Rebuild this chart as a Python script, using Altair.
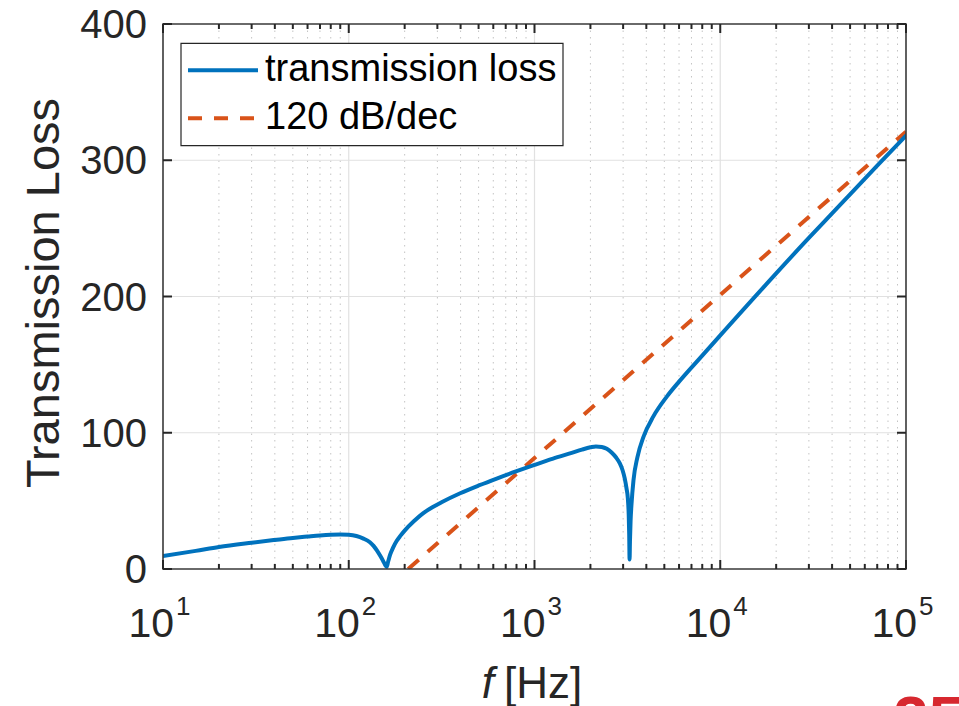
import altair as alt
import pandas as pd

# Transmission loss of the structure (frequency in Hz, loss in dB)
tl_freq = [10, 15, 20, 30, 40, 50, 60, 70, 80, 90, 100, 110, 120, 130, 136, 142,
           148, 153, 157, 160, 163, 167, 173, 181, 190, 200, 224, 251, 282, 316,
           398, 501, 631, 794, 1000, 1259, 1585, 1800, 2000, 2140, 2300, 2450,
           2600, 2750, 2880, 2980, 3060, 3130, 3180, 3215, 3235, 3250, 3265, 3290,
           3330, 3410, 3580, 3860, 4365, 5155, 6000, 7800, 10000, 20000, 30000,
           40000, 50000, 70000, 100000]
tl_db = [9.5, 13.3, 16.2, 19.3, 21.3, 22.8, 23.8, 24.6, 25.1, 25.3, 25.1, 24.2,
         22.3, 19.6, 17.0, 13.5, 9.5, 6.0, 3.0, 1.5, 5.5, 10.5, 15.5, 20.5, 24.5,
         28.2, 35.0, 40.8, 45.3, 49.0, 55.6, 61.3, 66.6, 71.6, 76.4, 81.0, 85.2,
         87.6, 89.3, 90.0, 89.6, 88.2, 85.5, 81.8, 77.5, 72.5, 66.5, 59.0, 52.0,
         40.0, 25.0, 7.0, 20.0, 35.0, 48.0, 65.0, 82.0, 97.0, 112.0, 126.5, 137.5,
         155.0, 171.5, 217.0, 243.0, 261.0, 275.0, 296.0, 318.0]

# 120 dB/decade reference slope
ref_freq = [209, 100000]
ref_db = [0, 321]

# Axis ticks
decades = [10, 100, 1000, 10000, 100000]
decade_exp = ["1", "2", "3", "4", "5"]
minor_steps = [2, 3, 4, 5, 6, 7, 8, 9]
y_ticks = [0, 100, 200, 300, 400]
y_grid = [100, 200, 300]

legend_labels = ["transmission loss", "120 dB/dec"]

BLUE = "#0072BD"
ORANGE = "#D95319"
INK = "#262626"
FONT = "Liberation Sans"
W, H = 743, 545

xs = alt.Scale(type="log", domain=[10, 100000])
ys = alt.Scale(domain=[0, 400])


def xf():
    return alt.X("f:Q", scale=xs, axis=None)


def yf():
    return alt.Y("v:Q", scale=ys, axis=None)


curve = pd.DataFrame({"f": tl_freq, "v": tl_db})
ref = pd.DataFrame({"f": ref_freq, "v": ref_db})
major = pd.DataFrame({"f": decades})
minor = pd.DataFrame({"f": [m * d for d in decades[:-1] for m in minor_steps]})
inner_major = pd.DataFrame({"f": decades[1:-1]})
yt = pd.DataFrame({"v": y_ticks, "lab": [str(v) for v in y_ticks]})
yg = pd.DataFrame({"v": y_grid})
xlab = pd.DataFrame({"f": decades, "e": decade_exp})
one = pd.DataFrame({"k": [0]})

layers = []

# grid
layers.append(alt.Chart(minor).mark_rule(color="#c4c4c4", strokeWidth=1, strokeDash=[1.5, 5]).encode(
    x=xf(), y=alt.value(0), y2=alt.value(H)))
layers.append(alt.Chart(inner_major).mark_rule(color="#e1e1e1", strokeWidth=1.2).encode(
    x=xf(), y=alt.value(0), y2=alt.value(H)))
layers.append(alt.Chart(yg).mark_rule(color="#e1e1e1", strokeWidth=1.2).encode(
    y=yf(), x=alt.value(0), x2=alt.value(W)))

# data lines
layers.append(alt.Chart(ref).mark_line(color=ORANGE, strokeWidth=4, strokeDash=[14, 12],
                                       strokeCap="butt", clip=True).encode(x=xf(), y=yf()))
layers.append(alt.Chart(curve).mark_line(color=BLUE, strokeWidth=4, strokeJoin="round",
                                         strokeCap="round", interpolate="monotone",
                                         clip=True).encode(x=xf(), y=yf()))

# axes box
layers.append(alt.Chart(one).mark_rect(fillOpacity=0, stroke="#3a3a3a", strokeWidth=1.6).encode(
    x=alt.value(0), x2=alt.value(W), y=alt.value(0), y2=alt.value(H)))

# inward ticks
tick_style = dict(color=INK, strokeWidth=2)
layers.append(alt.Chart(major).mark_rule(**tick_style).encode(x=xf(), y=alt.value(H), y2=alt.value(H - 9)))
layers.append(alt.Chart(major).mark_rule(**tick_style).encode(x=xf(), y=alt.value(0), y2=alt.value(9)))
layers.append(alt.Chart(minor).mark_rule(**tick_style).encode(x=xf(), y=alt.value(H), y2=alt.value(H - 5)))
layers.append(alt.Chart(minor).mark_rule(**tick_style).encode(x=xf(), y=alt.value(0), y2=alt.value(5)))
layers.append(alt.Chart(yt).mark_rule(**tick_style).encode(y=yf(), x=alt.value(0), x2=alt.value(9)))
layers.append(alt.Chart(yt).mark_rule(**tick_style).encode(y=yf(), x=alt.value(W), x2=alt.value(W - 9)))

# tick labels
layers.append(alt.Chart(yt).mark_text(font=FONT, fontSize=40, color=INK, align="right",
                                      baseline="middle", dx=-16, dy=2).encode(
    y=yf(), x=alt.value(0), text="lab:N"))
layers.append(alt.Chart(xlab).mark_text(font=FONT, fontSize=41, color=INK, align="right",
                                        baseline="alphabetic", dx=11).encode(
    x=xf(), y=alt.value(612.7), text=alt.value("10")))
layers.append(alt.Chart(xlab).mark_text(font=FONT, fontSize=26, color=INK, align="left",
                                        baseline="alphabetic", dx=13).encode(
    x=xf(), y=alt.value(591), text="e:N"))

# axis titles
layers.append(alt.Chart(one).mark_text(font=FONT, fontSize=47, color=INK, align="center",
                                       baseline="middle", angle=270).encode(
    x=alt.value(-118), y=alt.value(269), text=alt.value("Transmission Loss")))
layers.append(alt.Chart(one).mark_text(font=FONT, fontSize=44, color=INK, align="right",
                                       baseline="alphabetic", fontStyle="italic").encode(
    x=alt.value(331), y=alt.value(674), text=alt.value("f")))
layers.append(alt.Chart(one).mark_text(font=FONT, fontSize=44, color=INK, align="left",
                                       baseline="alphabetic").encode(
    x=alt.value(341), y=alt.value(674), text=alt.value("[Hz]")))

# legend
layers.append(alt.Chart(one).mark_rect(fill="white", stroke=INK, strokeWidth=1.2).encode(
    x=alt.value(18), x2=alt.value(400), y=alt.value(19.3), y2=alt.value(121.7)))
layers.append(alt.Chart(one).mark_rule(color=BLUE, strokeWidth=4).encode(
    x=alt.value(25), x2=alt.value(95), y=alt.value(46.3)))
layers.append(alt.Chart(one).mark_rule(color=ORANGE, strokeWidth=4, strokeDash=[14, 12],
                                       strokeCap="butt").encode(
    x=alt.value(25), x2=alt.value(95), y=alt.value(94.3)))
layers.append(alt.Chart(one).mark_text(font=FONT, fontSize=38, color="#000000", align="left",
                                       baseline="middle").encode(
    x=alt.value(102), y=alt.value(46.3), text=alt.value(legend_labels[0])))
layers.append(alt.Chart(one).mark_text(font=FONT, fontSize=38, color="#000000", align="left",
                                       baseline="middle").encode(
    x=alt.value(102), y=alt.value(94.3), text=alt.value(legend_labels[1])))

# slide page number at the lower edge
layers.append(alt.Chart(one).mark_text(font=FONT, fontSize=64, fontWeight="bold", color="#D7282F",
                                       align="left", baseline="top").encode(
    x=alt.value(730), y=alt.value(667), text=alt.value("25")))

chart = alt.layer(*layers).properties(
    width=W, height=H,
    autosize=alt.AutoSizeParams(type="none"),
    padding={"left": 163, "top": 24, "right": 53, "bottom": 137},
    background="white",
).configure_view(stroke=None)

chart.save("out.html", embed_options={"renderer": "svg", "actions": False})
